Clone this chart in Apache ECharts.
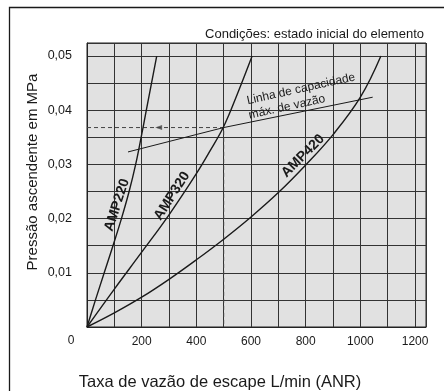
<!DOCTYPE html>
<html>
<head>
<meta charset="utf-8">
<script src="https://cdn.jsdelivr.net/npm/echarts@6/dist/echarts.min.js"></script>
<style>
  html, body { margin: 0; padding: 0; background: #fff; }
  #chart { width: 444px; height: 391px; }
</style>
</head>
<body>
<div id="chart"></div>
<script>
// curves (flow L/min, pressure MPa)
const amp220Flow = [0, 31, 63, 95, 126, 154, 178, 198, 217, 236, 255]
const amp220Press = [0, 0.005, 0.01, 0.015, 0.02, 0.025, 0.03, 0.035, 0.04, 0.045, 0.05]

const amp320Flow = [0, 100, 200, 300, 400, 450, 500, 550, 604]
const amp320Press = [0, 0.007, 0.0138, 0.0207, 0.0283, 0.0325, 0.0370, 0.0430, 0.05]

const amp420Flow = [0, 100, 200, 300, 400, 500, 600, 700, 800, 900, 1000, 1075]
const amp420Press = [0, 0.0026, 0.0055, 0.0088, 0.0124, 0.0162, 0.0203, 0.0248, 0.0299, 0.0355, 0.0424, 0.05]

const maxLineFlow = [150, 500, 1045]
const maxLinePress = [0.0323, 0.0368, 0.0424]

// example reading (dashed guide)
const guideFlow = [0, 500, 500]
const guidePress = [0.0368, 0.0368, 0]
const arrowAt = [[262, 0.0368]]

const xTickValues = [200, 400, 600, 800, 1000, 1200]
const xTickLabels = ['200', '400', '600', '800', '1000', '1200']
const yTickValues = [0.01, 0.02, 0.03, 0.04, 0.05]
const yTickLabels = ['0,01', '0,02', '0,03', '0,04', '0,05']

const pairs = (xs, ys) => xs.map((x, i) => [x, ys[i]])
const findLabel = (vals, labels, v) => {
  const i = vals.findIndex(t => Math.abs(t - v) < 1e-7 * Math.max(1, t) + 1e-9)
  return i < 0 ? '' : labels[i]
}

const font = 'Liberation Sans, Arial, sans-serif'
const ink = '#1a1a1a'
const deg = Math.PI / 180

const curve = (data) => ({
  type: 'line',
  data: data,
  smooth: 0.4,
  showSymbol: false,
  silent: true,
  lineStyle: { color: ink, width: 1.4 }
})

const chart = echarts.init(document.getElementById('chart'))
chart.setOption({
  animation: false,
  backgroundColor: '#fff',
  grid: {
    left: 87, right: 18, top: 43, bottom: 64,
    show: true,
    backgroundColor: '#e1e1e1',
    borderColor: '#222',
    borderWidth: 1
  },
  xAxis: {
    type: 'value',
    min: 0, max: 1240, interval: 100,
    axisLine: { show: true, lineStyle: { color: '#222' } },
    axisTick: { show: false },
    splitLine: { show: true, lineStyle: { color: '#333', width: 1 } },
    axisLabel: {
      margin: 9,
      fontSize: 12,
      fontFamily: font,
      color: ink,
      showMaxLabel: false,
      formatter: v => findLabel(xTickValues, xTickLabels, v)
    }
  },
  yAxis: {
    type: 'value',
    min: 0, max: 0.0524, interval: 0.005,
    axisLine: { show: true, lineStyle: { color: '#222' } },
    axisTick: { show: false },
    splitLine: { show: true, lineStyle: { color: '#333', width: 1 } },
    axisLabel: {
      margin: 15,
      fontSize: 12.5,
      fontFamily: font,
      color: ink,
      showMaxLabel: false,
      formatter: v => findLabel(yTickValues, yTickLabels, v)
    }
  },
  graphic: [
    {
      type: 'rect', left: 7, top: 5,
      shape: { width: 450, height: 400 },
      style: { fill: 'none', stroke: ink, lineWidth: 1.3 },
      silent: true
    },
    {
      type: 'text', x: 424, y: 34,
      style: { text: 'Condições: estado inicial do elemento', font: '13px ' + font, fill: ink, textAlign: 'right', textVerticalAlign: 'middle' }
    },
    {
      type: 'text', x: 71, y: 341,
      style: { text: '0', font: '12px ' + font, fill: ink, textAlign: 'center', textVerticalAlign: 'middle' }
    },
    {
      type: 'text', x: 220, y: 382,
      style: { text: 'Taxa de vazão de escape L/min (ANR)', font: '16.5px ' + font, fill: ink, textAlign: 'center', textVerticalAlign: 'middle' }
    },
    {
      type: 'text', x: 33, y: 172, rotation: 90 * deg,
      style: { text: 'Pressão ascendente em MPa', font: '15px ' + font, fill: ink, textAlign: 'center', textVerticalAlign: 'middle' }
    },
    {
      type: 'text', x: 117, y: 205, rotation: 72 * deg, z: 10,
      style: { text: 'AMP220', font: 'bold 14px ' + font, fill: ink, textAlign: 'center', textVerticalAlign: 'middle' }
    },
    {
      type: 'text', x: 172, y: 196, rotation: 57 * deg, z: 10,
      style: { text: 'AMP320', font: 'bold 14px ' + font, fill: ink, textAlign: 'center', textVerticalAlign: 'middle' }
    },
    {
      type: 'text', x: 303, y: 156, rotation: 45 * deg, z: 10,
      style: { text: 'AMP420', font: 'bold 14px ' + font, fill: ink, textAlign: 'center', textVerticalAlign: 'middle' }
    },
    {
      type: 'text', x: 301, y: 89, rotation: 12.5 * deg, z: 10,
      style: { text: 'Linha de capacidade', font: '12px ' + font, fill: ink, textAlign: 'center', textVerticalAlign: 'middle' }
    },
    {
      type: 'text', x: 287, y: 107, rotation: 12.5 * deg, z: 10,
      style: { text: 'máx. de vazão', font: '12px ' + font, fill: ink, textAlign: 'center', textVerticalAlign: 'middle' }
    }
  ],
  series: [
    {
      type: 'line',
      data: pairs(guideFlow, guidePress),
      showSymbol: false,
      silent: true,
      lineStyle: { color: '#444', width: 1, type: [4, 3] }
    },
    {
      type: 'scatter',
      data: arrowAt,
      symbol: 'triangle',
      symbolSize: [5, 7],
      symbolRotate: 90,
      silent: true,
      itemStyle: { color: '#444' }
    },
    curve(pairs(amp220Flow, amp220Press)),
    curve(pairs(amp320Flow, amp320Press)),
    curve(pairs(amp420Flow, amp420Press)),
    {
      type: 'line',
      data: pairs(maxLineFlow, maxLinePress),
      showSymbol: false,
      silent: true,
      lineStyle: { color: ink, width: 1 }
    }
  ]
})
window.addEventListener('resize', function () {
  chart.resize()
})
</script>
</body>
</html>
